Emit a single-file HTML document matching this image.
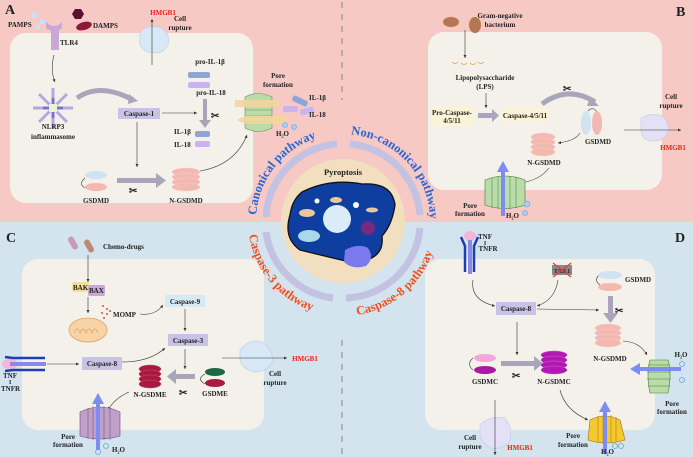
<!DOCTYPE html>
<html><head><meta charset="utf-8"><style>
html,body{margin:0;padding:0;background:#fff}
svg{display:block}
text{font-family:"Liberation Serif",serif;font-weight:bold;font-size:7px;fill:#222}
.c{text-anchor:middle}
.r{fill:#e8221c}
</style></head><body>
<svg width="693" height="457" viewBox="0 0 693 457" xmlns="http://www.w3.org/2000/svg">
<defs>
<marker id="a" markerWidth="6" markerHeight="6" refX="5" refY="3" orient="auto"><path d="M0,0.5 L5,3 L0,5.5z" fill="#333"/></marker>
</defs>
<rect x="0" y="0" width="693" height="222" fill="#f6c9c4"/>
<rect x="0" y="222" width="693" height="235" fill="#d3e4ee"/>
<!-- boxes -->
<rect x="10" y="33" width="243" height="170" rx="16" fill="#f4f1ea"/>
<rect x="428" y="32" width="234" height="158" rx="16" fill="#f4f1ea"/>
<rect x="22" y="259" width="242" height="171" rx="16" fill="#f4f1ea"/>
<rect x="425" y="259" width="230" height="171" rx="16" fill="#f4f1ea"/>
<line x1="342" y1="2" x2="342" y2="100" stroke="#999" stroke-width="1.3" stroke-dasharray="6,6"/>
<line x1="342" y1="340" x2="342" y2="457" stroke="#999" stroke-width="1.3" stroke-dasharray="6,6"/>

<!-- center -->
<circle cx="343" cy="221" r="62" fill="#f2dfbf"/>
<g fill="none" stroke="#c4c2e2" stroke-width="7">
<path d="M266,217 A77,77 0 0 1 337,144"/>
<path d="M350,144 A77,77 0 0 1 420,215"/>
<path d="M266,232 A77,77 0 0 0 333,298"/>
<path d="M346,298 A77,77 0 0 0 420,228"/>
</g>
<path id="t1" d="M256,221 A87,87 0 0 1 343,134" fill="none"/>
<path id="t2" d="M343,134 A87,87 0 0 1 430,221" fill="none"/>
<path id="t3" d="M248,221 A95,95 0 0 0 343,316" fill="none"/>
<path id="t4" d="M343,316 A95,95 0 0 0 438,221" fill="none"/>
<text style="font-size:12.5px;fill:#2a66d4"><textPath href="#t1" startOffset="6">Canonical pathway</textPath></text>
<text style="font-size:12.5px;fill:#2a66d4"><textPath href="#t2" startOffset="8">Non-canonical pathway</textPath></text>
<text style="font-size:12.5px;fill:#f0501e"><textPath href="#t3" startOffset="14">Caspase-3 pathway</textPath></text>
<text style="font-size:12.5px;fill:#f0501e"><textPath href="#t4" startOffset="14">Caspase-8 pathway</textPath></text>
<text x="343" y="175" class="c" style="font-size:8.5px">Pyroptosis</text>
<path d="M302,192 Q330,178 362,184 Q392,182 395,205 Q392,225 382,236 Q385,262 350,262 Q320,255 300,250 Q283,238 290,215 Q292,200 302,192z" fill="#0e3fa0" stroke="#111" stroke-width="1.3"/>
<circle cx="337" cy="219" r="14" fill="#d9ecf8"/>
<ellipse cx="307" cy="213" rx="8" ry="4" fill="#e8c89a"/>
<ellipse cx="336" cy="200" rx="6" ry="3" fill="#e8c89a"/>
<ellipse cx="372" cy="210" rx="6" ry="2.5" fill="#e8c89a"/>
<circle cx="317" cy="201" r="2.5" fill="#fff"/><circle cx="356" cy="205" r="3" fill="#fff"/>
<circle cx="368" cy="228" r="7" fill="#7a2a7e"/>
<ellipse cx="309" cy="236" rx="11" ry="6" fill="#a9d8e8"/>
<path d="M345,250 Q358,243 368,248 Q375,258 366,266 Q352,270 344,262z" fill="#7a7aee"/>

<!-- Panel A -->
<text x="5" y="14" style="font-size:14px">A</text>
<text x="8" y="27">PAMPS</text>
<rect x="32" y="13" width="5" height="5" fill="#c9e2f4"/><rect x="40" y="19" width="5" height="5" fill="#c9e2f4"/><rect x="36" y="25" width="4" height="4" fill="#c9e2f4"/>
<polygon points="75,9 81,9 84,14 81,19 75,19 72,14" fill="#5a1030"/>
<ellipse cx="84" cy="26" rx="8" ry="4" fill="#8a1a3a" transform="rotate(-15 84 26)"/>
<text x="93" y="28">DAMPS</text>
<path d="M46,22 Q54,30 62,22 L62,28 Q54,34 46,28z" fill="#c9a7d6"/>
<rect x="51" y="30" width="8" height="20" fill="#c9a7d6"/>
<text x="60" y="45">TLR4</text>
<path d="M54,55 Q50,70 55,82" fill="none" stroke="#333" stroke-width="0.6" marker-end="url(#a)"/>
<g stroke="#b5a7e0" stroke-width="3">
<line x1="33" y1="108" x2="73" y2="108"/><line x1="53" y1="88" x2="53" y2="128"/>
<line x1="39" y1="94" x2="67" y2="122"/><line x1="67" y1="94" x2="39" y2="122"/>
</g>
<g stroke="#7c6fd0" stroke-width="3"><line x1="43" y1="108" x2="63" y2="108"/><line x1="53" y1="98" x2="53" y2="118"/></g>
<rect x="49" y="104" width="8" height="8" fill="#e6f4d8"/>
<text x="53" y="129" class="c">NLRP3</text><text x="53" y="139" class="c">inflammasome</text>
<path d="M77,98 Q100,82 133,100" fill="none" stroke="#a9a6bb" stroke-width="5"/>
<polygon points="129,94 138,101 128,104" fill="#a9a6bb"/>
<rect x="118" y="108" width="42" height="11" fill="#c8c3e6"/>
<text x="139" y="116" class="c">Caspase-1</text>
<line x1="162" y1="113" x2="197" y2="113" stroke="#333" stroke-width="0.6" marker-end="url(#a)"/>
<line x1="137" y1="122" x2="137" y2="167" stroke="#333" stroke-width="0.6" marker-end="url(#a)"/>
<path d="M140,40 Q138,28 150,27 Q162,25 166,33 Q172,40 166,48 Q160,55 148,52 Q138,48 140,40z" fill="#d8e8f6" stroke="#b8cde0" stroke-width="0.6"/>
<line x1="152" y1="65" x2="152" y2="19" stroke="#333" stroke-width="0.6" marker-end="url(#a)"/>
<text x="163" y="15" class="c r" style="fill:#e8221c">HMGB1</text>
<text x="180" y="21" class="c">Cell</text><text x="180" y="30" class="c">rupture</text>
<text x="210" y="64" class="c">pro-IL-1β</text>
<rect x="188" y="72" width="22" height="6" rx="2" fill="#8fa4d8"/>
<rect x="188" y="82" width="22" height="6" rx="2" fill="#c9b3f0"/>
<text x="211" y="95" class="c">pro-IL-18</text>
<rect x="203" y="99" width="4" height="22" fill="#a9a6bb"/><polygon points="199,120 211,120 205,128" fill="#a9a6bb"/>
<text x="211" y="119" style="font-size:10px">✂</text>
<text x="174" y="134">IL-1β</text><rect x="195" y="131" width="15" height="6" rx="2" fill="#8fa4d8"/>
<text x="174" y="147">IL-18</text><rect x="195" y="141" width="15" height="6" rx="2" fill="#c9b3f0"/>
<path d="M85,178 Q78,184 85,188" fill="none" stroke="#333" stroke-width="0.6"/>
<ellipse cx="96" cy="175" rx="11" ry="4" fill="#cfe3f0"/>
<ellipse cx="96" cy="187" rx="11" ry="4" fill="#f3b9b1"/>
<text x="96" y="203" class="c">GSDMD</text>
<rect x="117" y="178" width="40" height="5" fill="#a9a6bb"/><polygon points="156,173 166,180.5 156,188" fill="#a9a6bb"/>
<text x="129" y="194" style="font-size:10px">✂</text>
<g fill="#f3b9b1" stroke="#f6d0ca" stroke-width="0.5">
<ellipse cx="186" cy="172" rx="14" ry="4"/><ellipse cx="186" cy="177" rx="14" ry="4"/><ellipse cx="186" cy="182" rx="14" ry="4"/><ellipse cx="186" cy="187" rx="14" ry="4"/></g>
<text x="186" y="203" class="c">N-GSDMD</text>
<path d="M200,171 Q235,165 247,135" fill="none" stroke="#333" stroke-width="0.6" marker-end="url(#a)"/>
<text x="278" y="78" class="c">Pore</text><text x="278" y="87" class="c">formation</text>
<path d="M245,97 Q258,90 272,97 L272,128 Q258,135 245,128z" fill="#b9dca8" stroke="#6a8f5a" stroke-width="0.6"/>
<g stroke="#6a8f5a" stroke-width="0.5"><line x1="245" y1="104" x2="272" y2="104"/><line x1="245" y1="110" x2="272" y2="110"/><line x1="245" y1="116" x2="272" y2="116"/><line x1="245" y1="122" x2="272" y2="122"/></g>
<polygon points="235,100 275,100 282,104 275,107 235,107" fill="#f2d79a" opacity="0.9"/>
<polygon points="285,116 245,116 237,120 245,124 285,124" fill="#f2d79a" opacity="0.9"/>
<rect x="292" y="98" width="16" height="6" rx="2" fill="#8fa4d8" transform="rotate(25 300 101)"/>
<rect x="283" y="106" width="15" height="6" rx="2" fill="#c9b3f0"/>
<rect x="300" y="108" width="14" height="6" rx="2" fill="#c9b3f0" transform="rotate(-15 307 111)"/>
<text x="309" y="100">IL-1β</text><text x="309" y="117">IL-18</text>
<circle cx="285" cy="125" r="2.5" fill="#a9d0f4" stroke="#6aa0e0" stroke-width="0.6"/><circle cx="294" cy="127" r="2.5" fill="#a9d0f4" stroke="#6aa0e0" stroke-width="0.6"/>
<text x="276" y="136">H₂O</text>

<!-- Panel B -->
<text x="676" y="16" style="font-size:14px">B</text>
<ellipse cx="451" cy="22" rx="8" ry="5" fill="#b37656" stroke="#f09a4a" stroke-width="0.6" stroke-dasharray="1,1"/>
<ellipse cx="475" cy="25" rx="6" ry="8" fill="#b37656" stroke="#f09a4a" stroke-width="0.6" stroke-dasharray="1,1"/>
<text x="500" y="18" class="c">Gram-negative</text><text x="500" y="27" class="c">bacterium</text>
<line x1="465" y1="30" x2="465" y2="58" stroke="#333" stroke-width="0.6" marker-end="url(#a)"/>
<path d="M452,62 q3,3 6,0 M461,63 q3,3 6,0 M470,63 q3,3 6,0 M478,62 q3,3 6,0" fill="none" stroke="#f09a3a" stroke-width="0.8"/>
<text x="485" y="80" class="c">Lipopolysaccharide</text><text x="485" y="89" class="c">(LPS)</text>
<line x1="486" y1="93" x2="486" y2="108" stroke="#333" stroke-width="0.6" marker-end="url(#a)"/>
<rect x="431" y="107" width="43" height="19" fill="#fbf3d5"/>
<text x="452" y="115" class="c">Pro-Caspase-</text><text x="452" y="123" class="c">4/5/11</text>
<rect x="478" y="113" width="15" height="5" fill="#a9a6bb"/><polygon points="492,109 499,115.5 492,122" fill="#a9a6bb"/>
<rect x="502" y="108" width="46" height="14" fill="#fbf3d5"/>
<text x="525" y="118" class="c">Caspase-4/5/11</text>
<path d="M542,104 Q568,85 595,102" fill="none" stroke="#a9a6bb" stroke-width="5"/>
<polygon points="590,97 599,106 587,106" fill="#a9a6bb"/>
<text x="563" y="92" style="font-size:10px">✂</text>
<path d="M588,111 Q593,106 597,112" fill="none" stroke="#333" stroke-width="0.6"/>
<ellipse cx="586" cy="123" rx="5" ry="12" fill="#cfe3f0"/><ellipse cx="597" cy="123" rx="5" ry="12" fill="#f3b9b1"/>
<text x="598" y="144" class="c">GSDMD</text>
<path d="M580,133 Q575,141 558,143" fill="none" stroke="#333" stroke-width="0.6" marker-end="url(#a)"/>
<g fill="#f3b9b1" stroke="#f6d0ca" stroke-width="0.5">
<ellipse cx="543" cy="137" rx="12" ry="4"/><ellipse cx="543" cy="142" rx="12" ry="4"/><ellipse cx="543" cy="147" rx="12" ry="4"/><ellipse cx="543" cy="152" rx="12" ry="4"/></g>
<text x="544" y="165" class="c">N-GSDMD</text>
<path d="M549,168 Q540,180 521,183" fill="none" stroke="#333" stroke-width="0.6" marker-end="url(#a)"/>
<path d="M485,180 Q505,172 525,180 L525,205 Q505,212 485,205z" fill="#b9dca8" stroke="#4a7a3a" stroke-width="0.6"/>
<g stroke="#4a7a3a" stroke-width="0.5"><line x1="492" y1="178" x2="492" y2="208"/><line x1="498" y1="176" x2="498" y2="209"/><line x1="510" y1="176" x2="510" y2="209"/><line x1="516" y1="177" x2="516" y2="208"/></g>
<rect x="501" y="170" width="4" height="46" fill="#7d8cf0"/><polygon points="497,172 503,161 509,172" fill="#7d8cf0"/>
<text x="470" y="208" class="c">Pore</text><text x="470" y="216" class="c">formation</text>
<text x="506" y="218">H₂O</text>
<circle cx="527" cy="204" r="3" fill="#a9d0f4" stroke="#6aa0e0" stroke-width="0.6"/><circle cx="525" cy="213" r="2.5" fill="#a9d0f4" stroke="#6aa0e0" stroke-width="0.6"/>
<path d="M641,118 Q652,112 662,116 Q670,122 668,132 Q664,142 650,141 Q640,138 641,128z" fill="#e3e1f6" stroke="#c9c4ea" stroke-width="0.6"/>
<line x1="624" y1="130" x2="681" y2="130" stroke="#333" stroke-width="0.6" marker-end="url(#a)"/>
<text x="671" y="99" class="c">Cell</text><text x="671" y="108" class="c">rupture</text>
<text x="673" y="150" class="c" style="fill:#e8221c">HMGB1</text>

<!-- Panel C -->
<text x="6" y="242" style="font-size:14px">C</text>
<rect x="70" y="236" width="6" height="14" rx="3" fill="#c89ab8" transform="rotate(-30 73 243)"/>
<rect x="86" y="239" width="6" height="14" rx="3" fill="#c08a70" transform="rotate(-30 89 246)"/>
<text x="103" y="249">Chemo-drugs</text>
<line x1="88" y1="255" x2="88" y2="282" stroke="#333" stroke-width="0.6" marker-end="url(#a)"/>
<rect x="72" y="282" width="17" height="10" rx="2" fill="#f6dc9a"/><rect x="88" y="285" width="17" height="11" rx="2" fill="#c9a7d6"/>
<text x="73" y="290">BAK</text><text x="89" y="293">BAX</text>
<line x1="88" y1="297" x2="88" y2="313" stroke="#333" stroke-width="0.6" marker-end="url(#a)"/>
<ellipse cx="88" cy="330" rx="19" ry="12" fill="#f6d4a8" stroke="#e0a060" stroke-width="0.8"/>
<path d="M74,333 q3,-8 6,0 q3,-8 6,0 q3,-8 6,0 q3,-8 6,0" fill="none" stroke="#e0a060" stroke-width="0.7"/>
<g fill="#c85a40"><circle cx="103" cy="306" r="1"/><circle cx="107" cy="309" r="1"/><circle cx="102" cy="313" r="1"/><circle cx="107" cy="314" r="1"/><circle cx="104" cy="318" r="1"/><circle cx="110" cy="311" r="1"/></g>
<text x="113" y="317">MOMP</text>
<path d="M140,314 Q155,316 163,305" fill="none" stroke="#333" stroke-width="0.6" marker-end="url(#a)"/>
<rect x="165" y="295" width="40" height="12" fill="#d6eaf6"/><text x="185" y="304" class="c">Caspase-9</text>
<line x1="185" y1="309" x2="185" y2="331" stroke="#333" stroke-width="0.6" marker-end="url(#a)"/>
<rect x="168" y="334" width="40" height="12" fill="#c8c3e6"/><text x="188" y="343" class="c">Caspase-3</text>
<line x1="185" y1="349" x2="185" y2="369" stroke="#333" stroke-width="0.6" marker-end="url(#a)"/>
<path d="M205,374 Q196,379 205,384" fill="none" stroke="#333" stroke-width="0.7"/>
<ellipse cx="215" cy="372" rx="10" ry="4" fill="#1a6a44"/><ellipse cx="215" cy="383" rx="10" ry="4" fill="#a81a40"/>
<text x="215" y="396" class="c">GSDME</text>
<rect x="175" y="374" width="20" height="5" fill="#a9a6bb"/><polygon points="176,369 167,376.5 176,384" fill="#a9a6bb"/>
<text x="179" y="396" style="font-size:10px">✂</text>
<g fill="#a81a40" stroke="#d05070" stroke-width="0.5">
<ellipse cx="150" cy="369" rx="11" ry="4"/><ellipse cx="150" cy="374" rx="11" ry="4"/><ellipse cx="150" cy="379" rx="11" ry="4"/><ellipse cx="150" cy="384" rx="11" ry="4"/></g>
<text x="150" y="397" class="c">N-GSDME</text>
<path d="M129,392 Q115,398 108,410" fill="none" stroke="#333" stroke-width="0.6" marker-end="url(#a)"/>
<rect x="82" y="357" width="40" height="13" fill="#c8c3e6"/><text x="102" y="366" class="c">Caspase-8</text>
<line x1="47" y1="364" x2="79" y2="364" stroke="#333" stroke-width="0.6" marker-end="url(#a)"/>
<path d="M122,362 Q150,362 165,348" fill="none" stroke="#333" stroke-width="0.6" marker-end="url(#a)"/>
<ellipse cx="10" cy="364" rx="8" ry="5" fill="#f6b4d6"/>
<g stroke="#1a40b0" stroke-width="2.5" fill="none"><path d="M5,357 L13,358 L45,358"/><path d="M5,371 L13,370 L45,370"/></g>
<rect x="10" y="362" width="36" height="4" fill="#8a8ae6"/>
<text x="3" y="378">TNF</text><text x="9" y="384" style="font-size:6px">I</text><text x="1" y="391">TNFR</text>
<path d="M80,412 Q100,402 120,412 L120,436 Q100,442 80,436z" fill="#bfa0c8" stroke="#6a4a78" stroke-width="0.6"/>
<g stroke="#6a4a78" stroke-width="0.5"><line x1="88" y1="408" x2="88" y2="439"/><line x1="93" y1="406" x2="93" y2="440"/><line x1="104" y1="406" x2="104" y2="440"/><line x1="110" y1="407" x2="110" y2="440"/></g>
<rect x="96" y="402" width="4" height="48" fill="#7d8cf0"/><polygon points="92,404 98,393 104,404" fill="#7d8cf0"/>
<text x="68" y="439" class="c">Pore</text><text x="68" y="447" class="c">formation</text>
<text x="112" y="452">H₂O</text>
<circle cx="106" cy="446" r="2.5" fill="none" stroke="#6aa0e0" stroke-width="0.8"/><circle cx="98" cy="452" r="2.5" fill="none" stroke="#6aa0e0" stroke-width="0.8"/>
<path d="M240,350 Q250,338 262,342 Q272,348 273,360 Q268,372 254,372 Q240,368 240,358z" fill="#d8e8f6" stroke="#b8cde0" stroke-width="0.6"/>
<line x1="222" y1="358" x2="287" y2="358" stroke="#333" stroke-width="0.6" marker-end="url(#a)"/>
<text x="305" y="361" class="c" style="fill:#e8221c">HMGB1</text>
<text x="275" y="376" class="c">Cell</text><text x="275" y="385" class="c">rupture</text>

<!-- Panel D -->
<text x="675" y="242" style="font-size:14px">D</text>
<ellipse cx="470" cy="236" rx="6" ry="5" fill="#f6b4d6"/>
<g stroke="#1a40b0" stroke-width="2.5" fill="none"><path d="M461,237 L465,246 L465,272"/><path d="M478,237 L474,246 L474,272"/></g>
<rect x="468" y="240" width="4" height="34" fill="#8a8ae6"/>
<text x="485" y="239" class="c">TNF</text><text x="485" y="245" class="c" style="font-size:6px">I</text><text x="488" y="251" class="c">TNFR</text>
<rect x="552" y="265" width="20" height="10" fill="#8a8a8a"/><text x="562" y="273" class="c" style="font-size:6.5px">TAK1</text>
<path d="M553,263 L571,277 M571,263 L553,277" stroke="#e04040" stroke-width="1.3"/>
<path d="M473,280 Q470,300 495,306" fill="none" stroke="#333" stroke-width="0.6" marker-end="url(#a)"/>
<path d="M558,280 Q555,300 537,306" fill="none" stroke="#333" stroke-width="0.6" marker-end="url(#a)"/>
<rect x="496" y="302" width="40" height="13" fill="#c8c3e6"/><text x="516" y="311" class="c">Caspase-8</text>
<line x1="537" y1="309" x2="599" y2="310" stroke="#333" stroke-width="0.6" marker-end="url(#a)"/>
<path d="M600,274 Q593,280 600,285" fill="none" stroke="#333" stroke-width="0.6"/>
<ellipse cx="610" cy="275" rx="12" ry="4" fill="#cfe3f0"/><ellipse cx="610" cy="287" rx="12" ry="4" fill="#f3b9b1"/>
<text x="625" y="282">GSDMD</text>
<rect x="608" y="296" width="5" height="18" fill="#a9a6bb"/><polygon points="603,313 618,313 610.5,323" fill="#a9a6bb"/>
<text x="615" y="314" style="font-size:10px">✂</text>
<g fill="#f3b9b1" stroke="#f6d0ca" stroke-width="0.5">
<ellipse cx="608" cy="328" rx="13" ry="4"/><ellipse cx="608" cy="333" rx="13" ry="4"/><ellipse cx="608" cy="338" rx="13" ry="4"/><ellipse cx="608" cy="343" rx="13" ry="4"/></g>
<text x="610" y="361" class="c">N-GSDMD</text>
<path d="M623,341 Q640,342 647,355" fill="none" stroke="#333" stroke-width="0.6" marker-end="url(#a)"/>
<path d="M650,360 Q646,375 650,393 L668,393 Q672,375 668,360z" fill="#b9dca8" stroke="#4a7a3a" stroke-width="0.6"/>
<g stroke="#4a7a3a" stroke-width="0.5"><line x1="648" y1="365" x2="670" y2="365"/><line x1="647" y1="372" x2="671" y2="372"/><line x1="647" y1="379" x2="671" y2="379"/><line x1="648" y1="386" x2="670" y2="386"/></g>
<rect x="638" y="367" width="43" height="4" fill="#7d8cf0"/><polygon points="640,363 630,369 640,375" fill="#7d8cf0"/>
<text x="681" y="357" class="c">H₂O</text>
<circle cx="682" cy="364" r="2.5" fill="none" stroke="#6aa0e0" stroke-width="0.8"/><circle cx="682" cy="380" r="2.5" fill="none" stroke="#6aa0e0" stroke-width="0.8"/>
<text x="672" y="406" class="c">Pore</text><text x="672" y="414" class="c">formation</text>
<line x1="517" y1="322" x2="517" y2="355" stroke="#333" stroke-width="0.6" marker-end="url(#a)"/>
<path d="M473,358 Q466,364 473,370" fill="none" stroke="#333" stroke-width="0.6"/>
<ellipse cx="485" cy="358" rx="11" ry="4" fill="#f4a6dc"/><ellipse cx="485" cy="370" rx="11" ry="4" fill="#a81aa0"/>
<text x="485" y="384" class="c">GSDMC</text>
<rect x="501" y="361" width="34" height="5" fill="#a9a6bb"/><polygon points="534,356 543,363.5 534,371" fill="#a9a6bb"/>
<text x="512" y="379" style="font-size:10px">✂</text>
<g fill="#b01ab0" stroke="#d060d0" stroke-width="0.5">
<ellipse cx="554" cy="355" rx="13" ry="4"/><ellipse cx="554" cy="360" rx="13" ry="4"/><ellipse cx="554" cy="365" rx="13" ry="4"/><ellipse cx="554" cy="370" rx="13" ry="4"/></g>
<text x="554" y="384" class="c">N-GSDMC</text>
<path d="M560,390 Q565,410 588,420" fill="none" stroke="#333" stroke-width="0.6" marker-end="url(#a)"/>
<path d="M590,420 Q605,412 620,420 L625,440 Q605,446 588,440z" fill="#f5c830" stroke="#a07010" stroke-width="0.6"/>
<g stroke="#a07010" stroke-width="0.5"><line x1="598" y1="416" x2="598" y2="442"/><line x1="603" y1="415" x2="603" y2="443"/><line x1="611" y1="415" x2="611" y2="443"/><line x1="616" y1="417" x2="616" y2="442"/></g>
<rect x="603" y="410" width="4" height="44" fill="#7d8cf0"/><polygon points="599,412 605,401 611,412" fill="#7d8cf0"/>
<text x="573" y="438" class="c">Pore</text><text x="573" y="447" class="c">formation</text>
<text x="601" y="454">H₂O</text>
<circle cx="615" cy="446" r="2.5" fill="none" stroke="#6aa0e0" stroke-width="0.8"/><circle cx="621" cy="446" r="2.5" fill="none" stroke="#6aa0e0" stroke-width="0.8"/>
<path d="M480,425 Q490,415 505,418 Q513,428 510,440 Q505,450 490,448 Q480,442 480,432z" fill="#e3e1f6" stroke="#c9c4ea" stroke-width="0.6"/>
<line x1="495" y1="400" x2="495" y2="455" stroke="#333" stroke-width="0.6" marker-end="url(#a)"/>
<text x="470" y="440" class="c">Cell</text><text x="470" y="449" class="c">rupture</text>
<text x="520" y="450" class="c" style="fill:#e8221c">HMGB1</text>
</svg>
</body></html>
